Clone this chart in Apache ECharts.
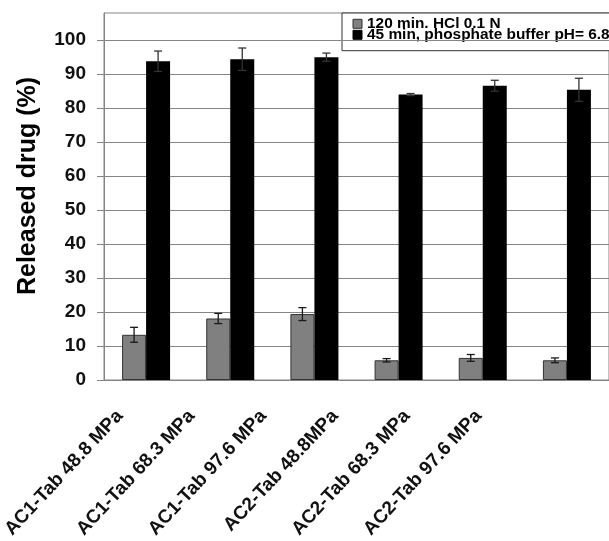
<!DOCTYPE html>
<html>
<head>
<meta charset="utf-8">
<script src="https://cdn.jsdelivr.net/npm/echarts@6/dist/echarts.min.js"></script>
<style>
  html, body { margin: 0; padding: 0; background: #fff; }
  #chart { width: 609px; height: 541px; }
</style>
</head>
<body>
<div id="chart"></div>
<script>
// Tablet formulations
const categories = [
  'AC1-Tab 48.8 MPa', 'AC1-Tab 68.3 MPa', 'AC1-Tab 97.6 MPa',
  'AC2-Tab 48.8MPa', 'AC2-Tab 68.3 MPa', 'AC2-Tab 97.6 MPa'
];
const seriesNames = ['120 min. HCl 0.1 N', '45 min, phosphate buffer pH= 6.8'];

// Released drug (%) and standard deviations
const acidRelease = [13.3, 18.1, 19.4, 5.8, 6.5, 5.8];
const acidSD = [2.2, 1.5, 1.9, 0.5, 1.0, 0.7];
const bufferRelease = [93.8, 94.4, 95.0, 84.0, 86.6, 85.4];
const bufferSD = [3.0, 3.3, 1.2, 0.3, 1.6, 3.4];

const yTicks = [0, 10, 20, 30, 40, 50, 60, 70, 80, 90, 100];

const FONT = '"Liberation Sans", Arial, sans-serif';
const BAR_W = 24;
const GRID_COLOR = '#858585';
const SERIES_COLORS = ['#808080', '#000000'];
const SERIES_BORDERS = ['#333', '#000'];

// Whisker renderer: offset shifts the whisker onto its bar within the category
function errorBars(offset, color) {
  return function (params, api) {
    const idx = api.value(0), mean = api.value(1), sd = api.value(2);
    const hi = api.coord([idx, mean + sd]);
    const lo = api.coord([idx, mean - sd]);
    const cx = hi[0] + offset;
    const half = 4;
    const st = { stroke: color, lineWidth: 1.3 };
    return {
      type: 'group',
      children: [
        { type: 'line', shape: { x1: cx, y1: hi[1], x2: cx, y2: lo[1] }, style: st },
        { type: 'line', shape: { x1: cx - half, y1: hi[1], x2: cx + half, y2: hi[1] }, style: st },
        { type: 'line', shape: { x1: cx - half, y1: lo[1], x2: cx + half, y2: lo[1] }, style: st }
      ]
    };
  };
}

// Boxed key in the upper right corner: swatch + wide bold caption per series
function legendBox() {
  const children = [{
    type: 'rect',
    shape: { x: 0, y: 0, width: 290, height: 37.7 },
    style: { fill: '#fff', stroke: '#333', lineWidth: 1 }
  }];
  seriesNames.forEach((name, i) => {
    const cy = 10.8 + i * 11;
    children.push({
      type: 'rect',
      shape: { x: 11, y: cy - 4.5, width: 9, height: 9 },
      style: { fill: SERIES_COLORS[i], stroke: SERIES_BORDERS[i], lineWidth: 1 }
    });
    children.push({
      type: 'text',
      x: 25,
      y: cy,
      scaleX: 1.1,
      style: {
        text: name,
        font: 'bold 14px ' + FONT,
        fill: '#000',
        align: 'left',
        verticalAlign: 'middle'
      }
    });
  });
  return { type: 'group', x: 342, y: 13, z: 20, children };
}

const chart = echarts.init(document.getElementById('chart'), null, { renderer: 'canvas' });

chart.setOption({
  animation: false,
  backgroundColor: '#fff',
  textStyle: { fontFamily: FONT },
  grid: [
    {
      left: 104, top: 13, width: 511, height: 367,
      show: true, borderColor: GRID_COLOR, borderWidth: 1, backgroundColor: 'transparent'
    },
    // label grid: carries the slanted category names
    { left: 76.5, top: 13, width: 438, height: 367 }
  ],
  graphic: [
    {
      type: 'text',
      x: 28,
      y: 186,
      rotation: Math.PI / 2,
      style: {
        text: 'Released drug (%)',
        font: 'bold 25px ' + FONT,
        fill: '#000',
        align: 'center',
        verticalAlign: 'middle'
      }
    },
    legendBox()
  ],
  xAxis: [
    {
      type: 'category',
      gridIndex: 0,
      data: categories,
      axisLine: { show: true, lineStyle: { color: GRID_COLOR, width: 1 } },
      axisTick: { show: false },
      axisLabel: { show: false },
      splitLine: { show: false }
    },
    {
      type: 'category',
      gridIndex: 1,
      data: categories,
      axisLine: { show: false },
      axisTick: { show: false },
      splitLine: { show: false },
      axisLabel: {
        show: true,
        interval: 0,
        rotate: 47,
        margin: 33,
        fontFamily: FONT,
        fontWeight: 'bold',
        fontSize: 19,
        color: '#111'
      }
    }
  ],
  yAxis: [
    {
      type: 'value',
      gridIndex: 0,
      min: 0,
      max: 108,
      interval: 10,
      axisLine: { show: true, lineStyle: { color: GRID_COLOR, width: 1 } },
      axisTick: {
        show: true,
        inside: false,
        length: 7,
        customValues: yTicks,
        lineStyle: { color: GRID_COLOR, width: 1 }
      },
      axisLabel: {
        customValues: yTicks,
        margin: 18,
        fontFamily: FONT,
        fontWeight: 'bold',
        fontSize: 19,
        color: '#111'
      },
      splitLine: { show: true, lineStyle: { color: GRID_COLOR, width: 1 } }
    },
    { type: 'value', gridIndex: 1, min: 0, max: 108, show: false }
  ],
  series: [
    {
      name: seriesNames[0],
      type: 'bar',
      xAxisIndex: 0,
      yAxisIndex: 0,
      data: acidRelease,
      barWidth: BAR_W,
      barGap: '0%',
      itemStyle: { color: SERIES_COLORS[0], borderColor: SERIES_BORDERS[0], borderWidth: 1 },
      z: 2
    },
    {
      name: seriesNames[1],
      type: 'bar',
      xAxisIndex: 0,
      yAxisIndex: 0,
      data: bufferRelease,
      barWidth: BAR_W,
      barGap: '0%',
      itemStyle: { color: SERIES_COLORS[1] },
      z: 2
    },
    {
      type: 'custom',
      xAxisIndex: 0,
      yAxisIndex: 0,
      z: 5,
      silent: true,
      renderItem: errorBars(-BAR_W / 2, '#1a1a1a'),
      data: acidRelease.map((v, i) => [i, v, acidSD[i]])
    },
    {
      type: 'custom',
      xAxisIndex: 0,
      yAxisIndex: 0,
      z: 5,
      silent: true,
      renderItem: errorBars(BAR_W / 2, '#333'),
      data: bufferRelease.map((v, i) => [i, v, bufferSD[i]])
    }
  ]
});
</script>
</body>
</html>
